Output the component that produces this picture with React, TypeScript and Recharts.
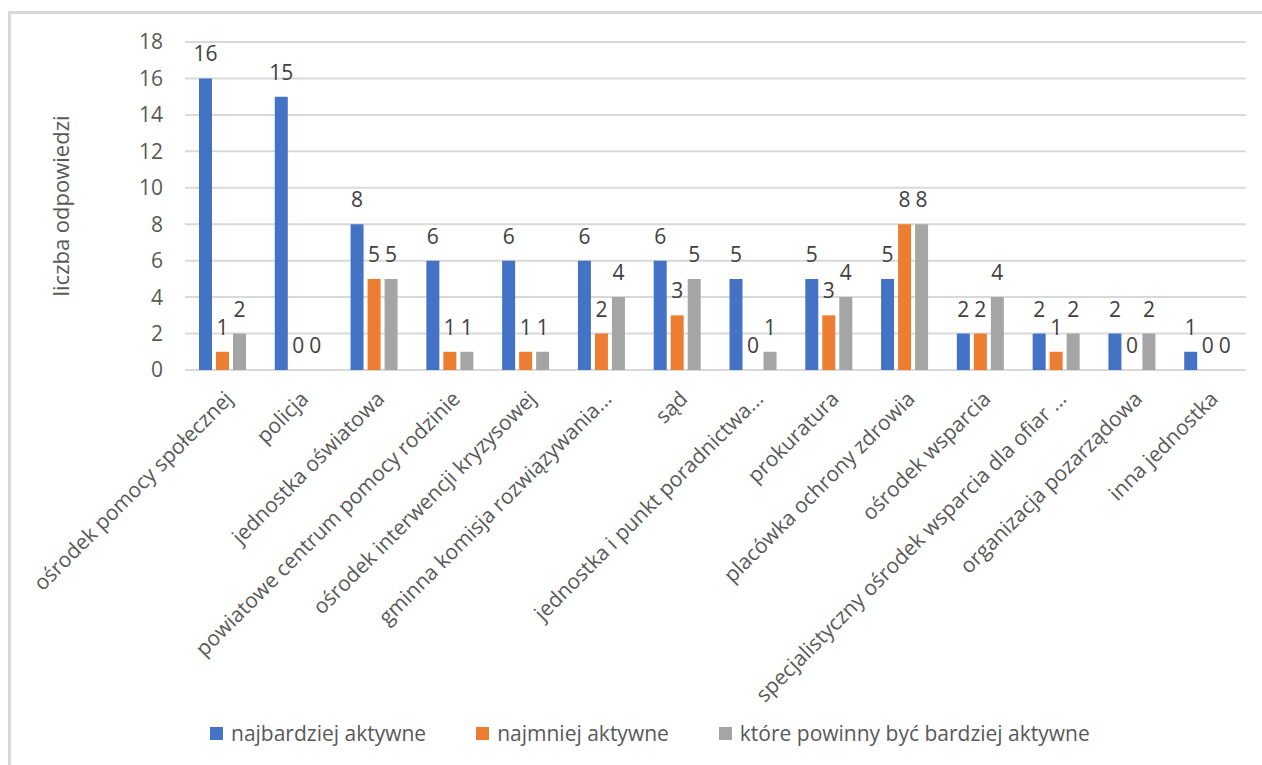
import React from 'react';
import { BarChart, Bar, XAxis, YAxis, CartesianGrid, Legend, LabelList } from 'recharts';

const categories = [
  'ośrodek pomocy społecznej',
  'policja',
  'jednostka oświatowa',
  'powiatowe centrum pomocy rodzinie',
  'ośrodek interwencji kryzysowej',
  'gminna komisja rozwiązywania...',
  'sąd',
  'jednostka i punkt poradnictwa...',
  'prokuratura',
  'placówka ochrony zdrowia',
  'ośrodek wsparcia',
  'specjalistyczny ośrodek wsparcia dla ofiar ...',
  'organizacja pozarządowa',
  'inna jednostka',
];
const najbardziej = [16, 15, 8, 6, 6, 6, 6, 5, 5, 5, 2, 2, 2, 1];
const najmniej = [1, 0, 5, 1, 1, 2, 3, 0, 3, 8, 2, 1, 0, 0];
const powinny = [2, 0, 5, 1, 1, 4, 5, 1, 4, 8, 4, 2, 2, 0];
const yTicks = [0, 2, 4, 6, 8, 10, 12, 14, 16, 18];
const seriesNames = ['najbardziej aktywne', 'najmniej aktywne', 'które powinny być bardziej aktywne'];
const colors = ['#4472C4', '#ED7D31', '#A5A5A5'];
const yTitle = 'liczba odpowiedzi';

const data = categories.map((name, i) => ({
  name,
  a: najbardziej[i],
  b: najmniej[i],
  c: powinny[i],
}));

const FONT = '"Open Sans", sans-serif';

const CategoryTick = (props: any) => {
  const { x, y, payload } = props;
  const ax = x + 6;
  const ay = y + 17;
  return (
    <text
      x={ax}
      y={ay}
      transform={`rotate(-45 ${ax} ${ay})`}
      textAnchor="end"
      dy="0.35em"
      fill="#595959"
      fontSize={21}
      fontFamily={FONT}
    >
      {payload.value}
    </text>
  );
};

const renderLegend = () => (
  <div style={{ display: 'flex', alignItems: 'center', fontFamily: FONT, fontSize: 21, color: '#595959', whiteSpace: 'nowrap' }}>
    {seriesNames.map((n, i) => (
      <div key={n} style={{ display: 'flex', alignItems: 'center', marginRight: 50 }}>
        <div style={{ width: 13, height: 13, background: colors[i], marginRight: 8 }} />
        <span>{n}</span>
      </div>
    ))}
  </div>
);

const YTitle = (props: any) => {
  const vb = props.viewBox || { x: 0, y: 42, width: 185, height: 328 };
  const cx = vb.x + 60;
  const cy = vb.y + vb.height / 2;
  return (
    <text
      x={cx}
      y={cy}
      transform={`rotate(-90 ${cx} ${cy})`}
      textAnchor="middle"
      dominantBaseline="central"
      fill="#595959"
      fontSize={22}
      fontFamily={FONT}
    >
      {yTitle}
    </text>
  );
};

const labelStyle = { fill: '#404040', fontSize: 21, fontFamily: FONT };
const zeroMin = (value: any) => (value === 0 ? 0.01 : 0);

export default function App() {
  return (
    <div style={{ position: 'absolute', left: 0, top: 0, width: 1262, height: 765, background: '#fff', overflow: 'hidden' }}>
      <div style={{ position: 'absolute', left: 8, top: 11, width: 3, height: 760, background: '#d9d9d9' }} />
      <div style={{ position: 'absolute', left: 8, top: 11, width: 1260, height: 3, background: '#d9d9d9' }} />
      <div style={{ position: 'absolute', left: 0, top: 0 }}>
        <BarChart
          width={1262}
          height={765}
          data={data}
          margin={{ top: 42, right: 16, left: 0, bottom: 0 }}
          barGap={4}
          barSize={13}
        >
          <CartesianGrid vertical={false} stroke="#d9d9d9" strokeWidth={2} />
          <XAxis
            dataKey="name"
            interval={0}
            tickLine={false}
            axisLine={false}
            height={395}
            tick={<CategoryTick />}
          />
          <YAxis
            width={185}
            domain={[0, 18]}
            ticks={yTicks}
            interval={0}
            tickLine={false}
            axisLine={false}
            tickSize={0}
            tickMargin={22}
            tick={{ fill: '#595959', fontSize: 21, fontFamily: FONT }}
            label={<YTitle />}
          />
          <Legend
            verticalAlign="middle"
            layout="horizontal"
            content={renderLegend}
            wrapperStyle={{ position: 'absolute', top: 719, left: 210, width: 'auto', height: 30 }}
          />
          <Bar dataKey="a" name={seriesNames[0]} fill={colors[0]} minPointSize={zeroMin} isAnimationActive={false}>
            <LabelList dataKey="a" position="top" offset={17} style={labelStyle} />
          </Bar>
          <Bar dataKey="b" name={seriesNames[1]} fill={colors[1]} minPointSize={zeroMin} isAnimationActive={false}>
            <LabelList dataKey="b" position="top" offset={17} style={labelStyle} />
          </Bar>
          <Bar dataKey="c" name={seriesNames[2]} fill={colors[2]} minPointSize={zeroMin} isAnimationActive={false}>
            <LabelList dataKey="c" position="top" offset={17} style={labelStyle} />
          </Bar>
        </BarChart>
      </div>
    </div>
  );
}
